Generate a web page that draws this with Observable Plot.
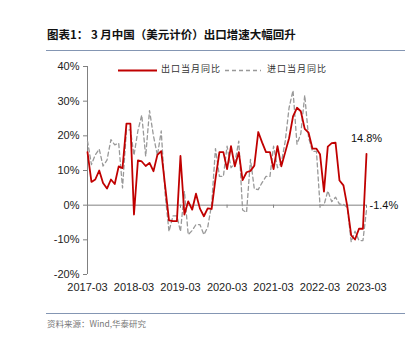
<!DOCTYPE html>
<html><head><meta charset="utf-8">
<script src="https://cdn.jsdelivr.net/npm/d3@7"></script>
<script src="https://cdn.jsdelivr.net/npm/@observablehq/plot@0.6"></script>
<style>
body{margin:0;background:#fff;}
#wrap{position:relative;width:420px;height:340px;background:#fff;overflow:hidden;font-family:"Liberation Sans",Arial,sans-serif;}
#title{position:absolute;left:47px;top:26px;font-family:"Noto Sans CJK SC",sans-serif;font-weight:bold;font-size:11.5px;color:#111;white-space:nowrap;}
.hr{position:absolute;left:46px;width:359px;border-top:1.3px solid #8496b3;}
#chart{position:absolute;left:0;top:56px;}
#legend{position:absolute;left:0;top:62px;width:420px;height:16px;font-family:"Noto Sans CJK SC",sans-serif;font-size:9px;letter-spacing:1px;color:#333;}
#legend span{position:absolute;top:0;white-space:nowrap;}
#legend svg{position:absolute;top:0;left:0;}
#caption{position:absolute;left:47px;top:317px;font-family:"Noto Sans CJK SC",sans-serif;font-size:8.5px;color:#777;white-space:nowrap;}
</style></head>
<body>
<div id="wrap">
  <div id="title">图表1： 3 月中国（美元计价）出口增速大幅回升</div>
  <div class="hr" style="top:50px"></div>
  <div id="chart"></div>
  <div id="legend">
    <svg width="420" height="16"><line x1="118" x2="157" y1="8.5" y2="8.5" stroke="#c00000" stroke-width="2"/><line x1="225" x2="261" y1="8.5" y2="8.5" stroke="#999" stroke-width="1.3" stroke-dasharray="4,3"/></svg>
    <span id="l1" style="left:161px">出口当月同比</span>
    <span id="l2" style="left:267px">进口当月同比</span>
  </div>
  <div class="hr" style="top:313px"></div>
  <div id="caption">资料来源：Wind,华泰研究</div>
</div>
<script>
// Export YoY (%), monthly 2017-03 ... 2023-03
const exportYoY = [15.3, 6.7, 7.4, 10.0, 6.4, 4.8, 7.4, 6.1, 11.2, 10.7,
  23.5, 23.5, -2.7, 12.9, 12.6, 11.3, 12.2, 9.8, 14.5, 15.6, 5.4, -4.4,
  -4.6, -4.6, 14.2, -2.7, 1.1, -1.3, 3.3, -1.0, -3.2, -0.9, -1.1, 7.6,
  15.3, 15.3, 10.4, 17.0, 11.2, 15.3, 7.2, 9.5, 9.9, 11.4, 21.1, 18.1,
  15.3, 15.3, 10.4, 17.0, 11.2, 15.3, 19.3, 25.6, 28.1, 27.1, 22.0, 20.9,
  16.3, 16.3, 14.7, 3.9, 16.9, 17.9, 18.0, 7.1, 5.7, -0.3, -8.7, -9.9,
  -6.8, -6.8, 14.8];
// Import YoY (%), monthly 2017-03 ... 2023-03
const importYoY = [18.5, 11.7, 14.5, 16.2, 11.3, 13.0, 18.9, 17.4, 17.9, 5.0,
  21.7, 21.7, 14.4, 21.5, 26.0, 14.1, 27.3, 20.0, 14.3, 21.4, 3.0, -7.6,
  -3.1, -3.1, -7.6, 4.0, -8.5, -7.3, -5.6, -5.6, -8.5, -6.4, 0.3, 16.3,
  8.3, 8.3, 17.0, 10.8, 12.2, 18.5, -1.4, -2.1, 13.2, 4.7, 4.5, 6.5,
  8.3, 8.3, 17.0, 10.8, 12.2, 18.5, 28.1, 33.1, 17.6, 20.6, 31.7, 19.5,
  15.5, 15.5, -0.1, 0.0, 4.1, 1.0, 2.3, 0.3, 0.3, -0.7, -10.6, -7.5,
  -10.2, -10.2, -1.4];
const startMonth = "2017-03";
const endMonth = "2023-03";
const xTickLabels = ["2017-03","2018-03","2019-03","2020-03","2021-03","2022-03","2023-03"];
const yTicks = [-20, -10, 0, 10, 20, 30, 40];

const parse = d3.utcParse("%Y-%m");
const start = parse(startMonth), end = parse(endMonth);
const months = d3.utcMonth.range(start, d3.utcMonth.offset(end, 1));
const rows = months.map((date, i) => ({date, exp: exportYoY[i], imp: importYoY[i]}));
const last = rows.slice(-1);
const tickDates = xTickLabels.map(parse);

const chart = Plot.plot({
  width: 420, height: 240,
  marginLeft: 87, marginRight: 54, marginTop: 10, marginBottom: 22,
  style: {fontFamily: "'Liberation Sans', Arial, sans-serif", fontSize: "11px", color: "#222", background: "transparent"},
  x: {type: "utc", domain: [start, end]},
  y: {domain: [-20, 40]},
  marks: [
    Plot.axisY({ticks: yTicks, tickFormat: d => d + "%", tickSize: 4, tickPadding: 4, stroke: "#808080", fill: "#222", label: null}),
    Plot.axisX({ticks: tickDates, tickFormat: d3.utcFormat("%Y-%m"), tickSize: 0, tickPadding: 9, fill: "#222", label: null}),
    Plot.ruleX([start], {y1: -20, y2: 40, stroke: "#808080"}),
    Plot.ruleY([0], {stroke: "#808080"}),
    Plot.ruleX(tickDates, {y1: 0, y2: -0.9, stroke: "#808080"}),
    Plot.lineY(rows, {x: "date", y: "imp", stroke: "#999", strokeWidth: 1.3, strokeDasharray: "4,3"}),
    Plot.lineY(rows, {x: "date", y: "exp", stroke: "#c00000", strokeWidth: 1.8}),
    Plot.text(last, {x: "date", y: "exp", text: d => d.exp.toFixed(1) + "%", dy: -15, fill: "#111", fontSize: 11}),
    Plot.text(last, {x: "date", y: "imp", text: d => d.imp.toFixed(1) + "%", dx: 3, dy: -5, textAnchor: "start", fill: "#111", fontSize: 11})
  ]
});
document.getElementById("chart").appendChild(chart);
</script>
</body></html>
